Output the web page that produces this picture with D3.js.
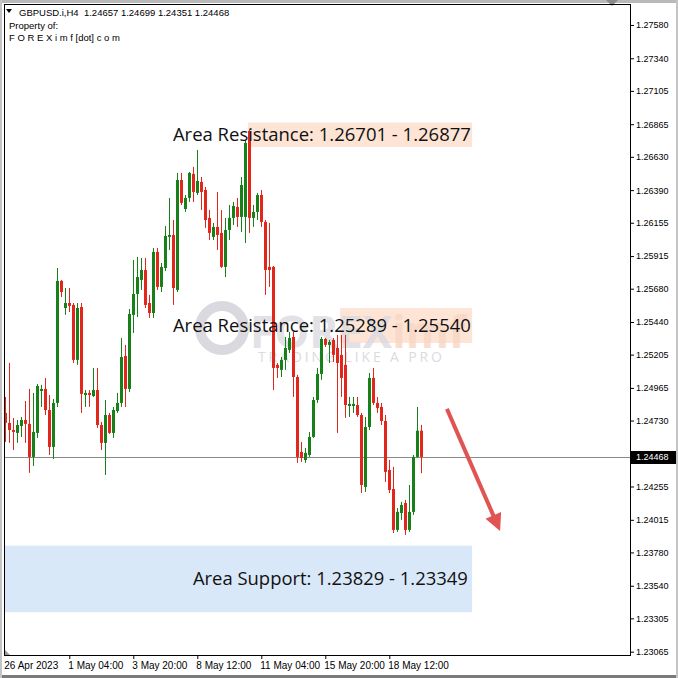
<!DOCTYPE html>
<html><head><meta charset="utf-8">
<script src="https://cdn.jsdelivr.net/npm/d3@7"></script>
<style>html,body{margin:0;padding:0;background:#fff;}svg{display:block;}</style>
</head><body>
<script>
// ---------- data ----------
const symbolHeader = "GBPUSD.i,H4  1.24657 1.24699 1.24351 1.24468";
const opens = [1.24785,1.24713,1.24662,1.24641,1.24691,1.24734,1.24706,1.24468,1.24641,1.24943,
1.24958,1.24806,1.24540,1.24857,1.25736,1.25541,1.25577,1.25563,1.25167,1.25548,
1.24914,1.24929,1.24907,1.24950,1.24698,1.24569,1.24770,1.24641,1.24799,1.24857,
1.25195,1.24958,1.25491,1.25642,1.25743,1.25815,1.25577,1.25505,1.25945,1.25693,
1.25829,1.26053,1.26067,1.25671,1.26463,1.26254,1.26334,1.26507,1.26370,1.26449,
1.26391,1.26190,1.26053,1.26125,1.26082,1.25837,1.26103,1.26190,1.26269,1.26197,
1.26197,1.26816,1.26190,1.26233,1.26355,1.26161,1.25837,1.25837,1.25131,1.25095,
1.25167,1.25239,1.25332,1.25044,1.24504,1.24446,1.24482,1.24612,1.24878,1.25066,
1.25318,1.25275,1.25311,1.25253,1.25203,1.25131,1.24835,1.24835,1.24842,1.24770,
1.24252,1.24684,1.25037,1.24857,1.24828,1.24727,1.24374,1.24237,1.23942,1.24064,
1.24136,1.23942,1.24072,1.24468,1.24657];
const highs = [1.24900,1.25145,1.24749,1.24734,1.24756,1.24871,1.24958,1.24929,1.24994,1.24987,
1.25037,1.24914,1.24886,1.25829,1.25743,1.25685,1.25685,1.25577,1.25577,1.25577,
1.24950,1.24950,1.25109,1.25109,1.24720,1.24878,1.24785,1.24828,1.24929,1.25325,
1.25275,1.25534,1.25887,1.25909,1.25901,1.25901,1.25635,1.25973,1.25973,1.25865,
1.26132,1.26334,1.26175,1.26514,1.26514,1.26355,1.26521,1.26557,1.26679,1.26485,
1.26413,1.26247,1.26154,1.26377,1.26247,1.26190,1.26283,1.26305,1.26334,1.26485,
1.26751,1.26830,1.26283,1.26370,1.26391,1.26175,1.26154,1.25844,1.25145,1.25188,
1.25332,1.25368,1.25368,1.25059,1.24576,1.24533,1.24648,1.24900,1.25109,1.25332,
1.25325,1.25311,1.25325,1.25347,1.25347,1.25347,1.24900,1.24900,1.24900,1.24785,
1.24756,1.25073,1.25109,1.24900,1.24857,1.24770,1.24446,1.24396,1.24100,1.24144,
1.24158,1.24266,1.24482,1.24828,1.24699];
const lows = [1.24576,1.24569,1.24518,1.24569,1.24612,1.24569,1.24353,1.24403,1.24605,1.24828,
1.24770,1.24482,1.24453,1.24828,1.25620,1.25491,1.25512,1.25145,1.25131,1.24785,
1.24828,1.24828,1.24900,1.24677,1.24518,1.24338,1.24634,1.24605,1.24785,1.24828,
1.24828,1.24936,1.25361,1.25476,1.25671,1.25541,1.25469,1.25469,1.25671,1.25656,
1.25808,1.25959,1.25563,1.25656,1.26283,1.26233,1.26305,1.26305,1.26355,1.26247,
1.26118,1.26031,1.26031,1.25959,1.25830,1.25764,1.26031,1.26139,1.26125,1.26089,
1.26009,1.26082,1.26125,1.26175,1.26125,1.25635,1.25693,1.24950,1.25037,1.25044,
1.25095,1.25217,1.24900,1.24425,1.24432,1.24425,1.24468,1.24605,1.24857,1.25023,
1.25260,1.25145,1.25152,1.24641,1.24900,1.24749,1.24756,1.24785,1.24756,1.24208,
1.24216,1.24662,1.24842,1.24785,1.24698,1.24288,1.24208,1.23920,1.23928,1.24014,
1.23906,1.23928,1.24050,1.24461,1.24351];
const closes = [1.24713,1.24662,1.24648,1.24698,1.24734,1.24706,1.24468,1.24648,1.24979,1.24958,
1.24806,1.24540,1.24857,1.25736,1.25656,1.25577,1.25556,1.25167,1.25541,1.24922,
1.24929,1.24914,1.24950,1.24698,1.24569,1.24770,1.24641,1.24806,1.24857,1.25188,
1.24958,1.25498,1.25642,1.25764,1.25815,1.25563,1.25505,1.25945,1.25693,1.25837,
1.26060,1.26067,1.25685,1.26463,1.26298,1.26334,1.26514,1.26377,1.26456,1.26377,
1.26175,1.26082,1.26125,1.26067,1.25837,1.26103,1.26190,1.26276,1.26197,1.26427,
1.26730,1.26190,1.26233,1.26355,1.26161,1.25815,1.25815,1.25109,1.25109,1.25167,
1.25253,1.25325,1.25044,1.24468,1.24461,1.24497,1.24612,1.24878,1.25066,1.25318,
1.25275,1.25296,1.25203,1.25145,1.25037,1.24842,1.24850,1.24850,1.24770,1.24266,
1.24684,1.25037,1.24857,1.24821,1.24727,1.24360,1.24230,1.23942,1.24072,1.24122,
1.23942,1.24072,1.24468,1.24657,1.24468];
const lastPrice = 1.24468;
const priceTicks = [1.27580,1.27340,1.27105,1.26865,1.26630,1.26390,1.26155,1.25915,1.25680,1.25440,
1.25205,1.24965,1.24730,1.24255,1.24015,1.23780,1.23540,1.23305,1.23065];
const timeLabels = ["26 Apr 2023","1 May 04:00","3 May 20:00","8 May 12:00","11 May 04:00","15 May 20:00","18 May 12:00"];
const timeLabelBars = [0,16,32,48,64,80,96];
const zoneLabels = ["Area Resistance: 1.26701 - 1.26877","Area Resistance: 1.25289 - 1.25540","Area Support: 1.23829 - 1.23349"];
const zoneLow  = [1.26701,1.25289,1.23349];
const zoneHigh = [1.26877,1.25540,1.23829];
const zoneStartBar = [60.7,83.7,-0.35];
const zoneEndBar = [116.7,116.7,116.7];
const zoneTextBar = [41.9,41.9,46.9];
const zoneTextWidth = [298,298,275];
const zoneKind = ["res","res","sup"];
const arrowFrom = [110.4,1.24814];
const arrowTo = [123.7,1.23935];

// ---------- layout ----------
const W=678,H=678;
const L=4,T=4,R=630,B=655;
const x = d3.scaleLinear().domain([0,104]).range([5.3,421.3]);
const y = d3.scaleLinear().domain([1.23041,1.27731]).range([B,T]);
const GREEN="#188018", RED="#e3261c";
const svg = d3.select("body").append("svg").attr("width",W).attr("height",H);

svg.append("rect").attr("width",W).attr("height",H).attr("fill","#fff");
// window frame
svg.append("rect").attr("x",0).attr("y",0).attr("width",W).attr("height",3).attr("fill","#b9b9b9");
svg.append("rect").attr("x",0).attr("y",675).attr("width",W).attr("height",3).attr("fill","#7a7a7a");
svg.append("rect").attr("x",0).attr("y",0).attr("width",2).attr("height",H).attr("fill","#c4c4c4");
svg.append("rect").attr("x",676).attr("y",0).attr("width",2).attr("height",H).attr("fill","#c4c4c4");
svg.append("path").attr("d","M606,0 L618,0 L612,6 Z").attr("fill","#8a8a8a");

// zones
const zones = zoneLabels.map((t,i)=>({t,lo:zoneLow[i],hi:zoneHigh[i],s:zoneStartBar[i],e:zoneEndBar[i],tx:zoneTextBar[i],tw:zoneTextWidth[i],k:zoneKind[i]}));
svg.append("g").selectAll("rect").data(zones).join("rect")
  .attr("x",d=>Math.max(L,x(d.s))).attr("width",d=>x(d.e)-Math.max(L,x(d.s)))
  .attr("y",d=>y(d.hi)).attr("height",d=>y(d.lo)-y(d.hi))
  .attr("fill",d=>d.k==="res"?"#fde4d5":"#d9e8f8");

// watermark
const wm = svg.append("g").attr("opacity",0.8);
wm.append("circle").attr("cx",222).attr("cy",328).attr("r",22).attr("fill","none").attr("stroke","#d0d0d8").attr("stroke-width",10);
wm.append("text").attr("x",250).attr("y",348).attr("font-family","Open Sans, sans-serif").attr("font-weight","bold").attr("font-size",44)
  .attr("fill","#dadae1").text("FOREX").append("tspan").attr("fill","#f7d6c3").text("imf");
wm.append("text").attr("x",258).attr("y",362).attr("font-family","Open Sans, sans-serif").attr("font-size",14)
  .attr("textLength",184).attr("lengthAdjust","spacing")
  .attr("fill","#d3d3da").text("TRADING LIKE A PRO");

// current price line
svg.append("line").attr("x1",L).attr("x2",R).attr("y1",Math.round(y(lastPrice))+0.5).attr("y2",Math.round(y(lastPrice))+0.5)
  .attr("stroke","#8a8a8a").attr("stroke-width",1);

// candles
const data = opens.map((o,i)=>({i,o,h:highs[i],l:lows[i],c:closes[i]}));
const cg = svg.append("g");
const cs = cg.selectAll("g").data(data).join("g");
cs.append("line")
  .attr("x1",d=>Math.round(x(d.i))+0.5).attr("x2",d=>Math.round(x(d.i))+0.5)
  .attr("y1",d=>y(d.h)).attr("y2",d=>y(d.l))
  .attr("stroke",d=>d.c>=d.o?GREEN:RED).attr("stroke-width",1);
cs.append("rect")
  .attr("x",d=>Math.round(x(d.i))-1).attr("width",3)
  .attr("y",d=>y(Math.max(d.o,d.c)))
  .attr("height",d=>Math.max(1,Math.abs(y(d.o)-y(d.c))))
  .attr("fill",d=>d.c>=d.o?GREEN:RED);

// zone texts
svg.append("g").selectAll("text").data(zones).join("text")
  .attr("x",d=>x(d.tx)).attr("y",d=>(y(d.hi)+y(d.lo))/2+6.5)
  .attr("font-family","Open Sans, Noto Sans, sans-serif").attr("font-size",18).attr("fill","#111")
  .attr("textLength",d=>d.tw).attr("lengthAdjust","spacingAndGlyphs")
  .text(d=>d.t);

// arrow
const ax1=x(arrowFrom[0]), ay1=y(arrowFrom[1]), ax2=x(arrowTo[0]), ay2=y(arrowTo[1]);
const dx=ax2-ax1, dy=ay2-ay1, len=Math.hypot(dx,dy), ux=dx/len, uy=dy/len;
const hl=17, hw=8.5, bx=ax2-hl*ux, by=ay2-hl*uy;
svg.append("line").attr("x1",ax1).attr("y1",ay1).attr("x2",bx+ux*2).attr("y2",by+uy*2)
  .attr("stroke","#e05454").attr("stroke-width",4);
svg.append("path").attr("d",`M${ax2},${ay2} L${bx-uy*hw},${by+ux*hw} L${bx+uy*hw},${by-ux*hw} Z`).attr("fill","#e05454");

// plot frame
svg.append("rect").attr("x",L+0.5).attr("y",T+0.5).attr("width",R-L).attr("height",B-T)
  .attr("fill","none").attr("stroke","#000").attr("stroke-width",1);

// right axis
const ya = svg.append("g").attr("transform",`translate(${R},0)`)
  .call(d3.axisRight(y).tickValues(priceTicks).tickSize(4).tickPadding(2).tickFormat(d3.format(".5f")));
ya.select(".domain").remove();
ya.selectAll("text").attr("font-family","Liberation Sans, Arial, sans-serif").attr("font-size",9).attr("fill","#000");

// price tag
const py = y(lastPrice);
svg.append("rect").attr("x",R+1).attr("y",Math.round(py)-6).attr("width",45).attr("height",13).attr("fill","#000");
svg.append("text").attr("x",R+6).attr("y",py).attr("dy","0.35em").attr("font-family","Liberation Sans, Arial, sans-serif")
  .attr("font-size",9).attr("fill","#fff").text(d3.format(".5f")(lastPrice));

// bottom axis
const xa = svg.append("g").attr("transform",`translate(0,${B})`)
  .call(d3.axisBottom(x).tickValues(timeLabelBars).tickSize(4).tickPadding(3).tickFormat((d,i)=>timeLabels[i]));
xa.select(".domain").remove();
xa.selectAll("text").attr("text-anchor","start").attr("x",-1.5)
  .attr("font-family","Liberation Sans, Arial, sans-serif").attr("font-size",10).attr("fill","#000");
xa.selectAll(".tick").filter((d,i)=>i===0).select("line").remove();
svg.append("path").attr("d",`M${L+1},${B-5} L${L+1},${B} L${L+6},${B} Z`).attr("fill","#9a9a9a");

// header
svg.append("path").attr("d","M6,9 L12,9 L9,13 Z").attr("fill","#000");
const hf = "Liberation Sans, Arial, sans-serif";
svg.append("text").attr("x",19).attr("y",16).attr("font-family",hf).attr("font-size",9.5).attr("fill","#000")
  .attr("xml:space","preserve").style("white-space","pre").text(symbolHeader);
svg.append("text").attr("x",9).attr("y",28.5).attr("font-family",hf).attr("font-size",9.5).attr("fill","#000").text("Property of:");
svg.append("text").attr("x",9).attr("y",40.5).attr("font-family",hf).attr("font-size",9.5).attr("fill","#000").text("F O R E X i m f [dot] c o m");
</script>
</body></html>
